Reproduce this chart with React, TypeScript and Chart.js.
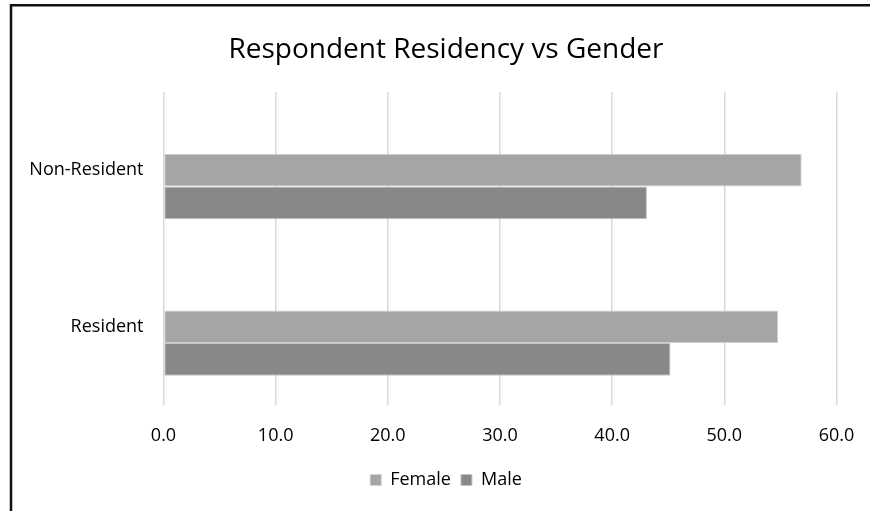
import React, { useEffect, useRef } from "react";
import { Chart, registerables } from "chart.js";

Chart.register(...registerables);

const categories = ["Non-Resident", "Resident"];
const femaleValues = [56.9, 54.8];
const maleValues = [43.1, 45.2];
const spacerValues = [null, null];
const seriesNames = ["Female", "Male"];
const titleText = "Respondent Residency vs Gender";

const FONT = "'Open Sans', 'Noto Sans', sans-serif";

const framePlugin = {
  id: "frame",
  afterLayout(chart: any) {
    if (chart.titleBlock) {
      chart.titleBlock.left = 22;
      chart.titleBlock.right = chart.width;
    }
    if (chart.legend) {
      chart.legend.left = 22;
      chart.legend.right = chart.width;
    }
  },
  beforeDraw(chart: any) {
    const ctx = chart.ctx;
    ctx.save();
    ctx.fillStyle = "#ffffff";
    ctx.fillRect(0, 0, chart.width, chart.height);
    ctx.strokeStyle = "#111111";
    ctx.lineWidth = 2.5;
    ctx.beginPath();
    ctx.moveTo(chart.width + 2, 5.3);
    ctx.lineTo(11, 5.3);
    ctx.lineTo(11, chart.height + 2);
    ctx.stroke();
    ctx.restore();
  },
};

export default function App() {
  const ref = useRef<HTMLCanvasElement | null>(null);

  useEffect(() => {
    document.body.style.margin = "0";
    const canvas = ref.current;
    if (!canvas) return;
    const common = {
      borderWidth: 1,
      borderSkipped: false,
      barPercentage: 1,
      categoryPercentage: 0.625,
    };
    const chart = new Chart(canvas, {
      type: "bar",
      data: {
        labels: categories,
        datasets: [
          {
            label: "",
            data: spacerValues,
            backgroundColor: "rgba(0,0,0,0)",
            borderColor: "rgba(0,0,0,0)",
            ...common,
          },
          {
            label: seriesNames[0],
            data: femaleValues,
            backgroundColor: "#a5a5a5",
            borderColor: "#cfcfcf",
            ...common,
          },
          {
            label: seriesNames[1],
            data: maleValues,
            backgroundColor: "#888888",
            borderColor: "#c4c4c4",
            ...common,
          },
        ],
      },
      options: {
        indexAxis: "y",
        responsive: false,
        animation: false,
        layout: { padding: { left: 0, right: 33.5, top: 0, bottom: 12 } },
        plugins: {
          title: {
            display: true,
            text: titleText,
            color: "#000000",
            font: { family: FONT, size: 28, weight: "normal" },
            padding: { top: 33, bottom: 25.4 },
          },
          legend: {
            position: "bottom",
            labels: {
              color: "#000000",
              font: { family: FONT, size: 18 },
              boxWidth: 11,
              boxHeight: 11,
              padding: 10,
              filter: (item: any) => item.text !== "",
            },
          },
          tooltip: { enabled: false },
        },
        scales: {
          x: {
            min: 0,
            max: 60,
            ticks: {
              stepSize: 10,
              color: "#000000",
              font: { family: FONT, size: 18 },
              padding: 20,
              callback: (v: any) => Number(v).toFixed(1),
            },
            grid: { color: "#d9d9d9", lineWidth: 1.5, drawTicks: false },
            border: { display: false },
            afterFit: (scale: any) => {
              scale.height = 56;
              scale.paddingLeft = 0;
              scale.paddingRight = 0;
            },
          },
          y: {
            ticks: {
              color: "#000000",
              font: { family: FONT, size: 18 },
              padding: 20,
            },
            grid: { display: false, drawTicks: false },
            border: { display: false },
            afterFit: (scale: any) => {
              scale.width = 163.5;
            },
          },
        },
      },
      plugins: [framePlugin],
    });
    return () => chart.destroy();
  }, []);

  return <canvas ref={ref} width={870} height={511} style={{ display: "block" }} />;
}
